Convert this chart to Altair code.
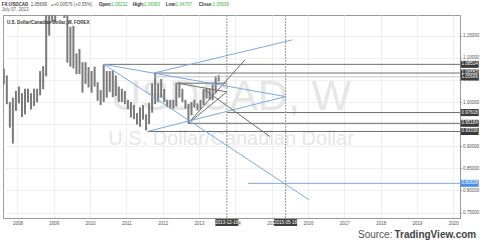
import altair as alt
import pandas as pd

# ---------------- data ----------------
months = [
    "2007-08", "2007-09", "2007-10", "2007-11", "2007-12",
    "2008-01", "2008-02", "2008-03", "2008-04", "2008-05", "2008-06",
    "2008-07", "2008-08", "2008-09", "2008-10", "2008-11", "2008-12",
    "2009-01", "2009-02", "2009-03", "2009-04", "2009-05", "2009-06",
    "2009-07", "2009-08", "2009-09", "2009-10", "2009-11", "2009-12",
    "2010-01", "2010-02", "2010-03", "2010-04", "2010-05", "2010-06",
    "2010-07", "2010-08", "2010-09", "2010-10", "2010-11", "2010-12",
    "2011-01", "2011-02", "2011-03", "2011-04", "2011-05", "2011-06",
    "2011-07", "2011-08", "2011-09", "2011-10", "2011-11", "2011-12",
    "2012-01", "2012-02", "2012-03", "2012-04", "2012-05", "2012-06",
    "2012-07", "2012-08", "2012-09", "2012-10", "2012-11", "2012-12",
    "2013-01", "2013-02", "2013-03", "2013-04", "2013-05", "2013-06",
    "2013-07",
]
high = [
    1.0750, 1.0600, 1.0000, 1.0100, 1.0250,
    1.0350, 1.0200, 1.0300, 1.0300, 1.0200, 1.0300,
    1.0300, 1.0700, 1.0810, 1.2980, 1.2900, 1.3000,
    1.2800, 1.2900, 1.3060, 1.2800, 1.2000, 1.1700,
    1.1720, 1.1100, 1.1200, 1.0900, 1.0900, 1.0790,
    1.0700, 1.0800, 1.0450, 1.0270, 1.0850, 1.0700,
    1.0700, 1.0710, 1.0600, 1.0350, 1.0300, 1.0250,
    1.0050, 1.0000, 0.9930, 0.9750, 0.9880, 0.9930,
    0.9720, 0.9980, 1.0420, 1.0655, 1.0420, 1.0520,
    1.0300, 1.0050, 1.0050, 1.0050, 1.0430, 1.0440,
    1.0300, 1.0050, 0.9960, 1.0000, 1.0050, 0.9970,
    1.0050, 1.0290, 1.0300, 1.0300, 1.0400, 1.0590,
    1.0608,
]
low = [
    1.0400, 0.9950, 0.9420, 0.9060, 0.9800,
    0.9970, 0.9660, 0.9720, 0.9990, 0.9830, 0.9910,
    0.9990, 1.0150, 1.0290, 1.0580, 1.1500, 1.1800,
    1.1800, 1.2100, 1.2150, 1.1900, 1.0890, 1.0800,
    1.0760, 1.0630, 1.0630, 1.0210, 1.0410, 1.0330,
    1.0210, 1.0350, 1.0030, 0.9930, 1.0000, 1.0100,
    1.0230, 1.0110, 1.0140, 1.0000, 1.0000, 0.9950,
    0.9840, 0.9650, 0.9610, 0.9490, 0.9440, 0.9600,
    0.9360, 0.9500, 0.9760, 0.9950, 1.0000, 1.0100,
    1.0000, 0.9880, 0.9850, 0.9850, 0.9900, 1.0100,
    1.0000, 0.9850, 0.9530, 0.9700, 0.9870, 0.9810,
    0.9830, 0.9930, 1.0080, 1.0050, 1.0040, 1.0200,
    1.0470,
]

# drawing tools (decimal year, price)
blue_x1 = [2010.386, 2011.581, 2011.755, 2010.386, 2014.353]
blue_y1 = [1.08514, 0.93338, 1.06553, 1.08514, 0.81618]
blue_x2 = [2015.383, 2015.383, 2015.565, 2016.025, 2020.185]
blue_y2 = [1.0123, 1.0123, 1.1403, 0.7791, 0.81618]

grey_x1 = [2010.386, 2011.755, 2013.766, 2012.700, 2011.581, 2012.408, 2012.408, 2012.700, 2012.700, 2013.160]
grey_y1 = [1.08514, 1.06553, 0.97618, 0.95184, 0.93338, 1.0425, 1.0425, 0.95184, 0.95184, 1.0274]
grey_x2 = [2020.185, 2020.185, 2020.185, 2020.185, 2020.185, 2013.766, 2013.766, 2013.766, 2014.262, 2014.950]
grey_y2 = [1.08514, 1.06553, 0.97618, 0.95184, 0.93338, 1.0425, 1.0229, 1.0229, 1.0951, 0.9220]

price_line = [1.05699]
price_line_from = [2011.755]

vline_t = [2013.766, 2015.383]
vline_lab = ["2013-12-16", "2015-05-18"]

dark_levels = [1.05699, 1.08514, 1.06553, 0.97618, 0.95184, 0.93338]
dark_labels = ["1.05699", "1.08514", "1.06553", "0.97618", "0.95184", "0.93338"]
blue_levels = [0.81618]
blue_labels = ["0.81618"]

year_ticks = list(range(2008, 2021))
price_ticks = [0.75, 0.80, 0.85, 0.90, 0.95, 1.00, 1.05, 1.10, 1.15]

# ---------------- tables ----------------
def dec(m):
    y, mo = m.split("-")
    return int(y) + (int(mo) - 0.5) / 12

bars = pd.DataFrame({"t": [dec(m) for m in months], "hi": high, "lo": low})
blue = pd.DataFrame({"t": blue_x1, "p": blue_y1, "t2": blue_x2, "p2": blue_y2})
grey = pd.DataFrame({"t": grey_x1, "p": grey_y1, "t2": grey_x2, "p2": grey_y2})
pline = pd.DataFrame({"t": price_line_from, "t2": [2020.185], "p": price_line})
vl = pd.DataFrame({"t": vline_t, "lab": vline_lab})
dl = pd.DataFrame({"p": dark_levels, "lab": dark_labels})
bl = pd.DataFrame({"p": blue_levels, "lab": blue_labels})
one = pd.DataFrame({"a": [0]})

FONT = "Liberation Sans"
xs = alt.Scale(domain=[2007.603, 2020.185], nice=False, zero=False)
ys = alt.Scale(domain=[0.7378, 1.1967], nice=False, zero=False)

x_axis = alt.Axis(values=year_ticks, format="d", labelFontSize=4.5,
                  tickSize=0, labelPadding=2, grid=True,
                  gridColor="#efefef", domainColor="#999999",
                  labelColor="#555555", labelFlush=False, title=None)
y_axis = alt.Axis(orient="right", values=price_ticks, format=".5f",
                  labelFontSize=4.5, tickSize=1.5, labelPadding=1,
                  grid=True, gridColor="#efefef", domainColor="#999999",
                  tickColor="#999999", labelColor="#555555", title=None)

def X(field="t"):
    return alt.X(f"{field}:Q", scale=xs, axis=x_axis)

def Y(field="p"):
    return alt.Y(f"{field}:Q", scale=ys, axis=y_axis)

def txt(s, x, y, size=4.5, color="#333333", weight="normal", align="left"):
    return alt.Chart(one).mark_text(
        text=s, align=align, baseline="alphabetic", fontSize=size,
        color=color, fontWeight=weight, font=FONT
    ).encode(x=alt.value(x), y=alt.value(y))

# watermark
wm1 = txt("USDCAD, W", 228, 95, size=42, color="#e6e6e6", align="center")
wm2 = txt("U.S. Dollar/Canadian Dollar", 228, 130, size=20, color="#e6e6e6", align="center")

price = alt.Chart(bars).mark_rule(strokeWidth=2.0, color="#7a7a7a", clip=True).encode(
    x=X(), y=Y("lo"), y2="hi:Q")

pl = alt.Chart(pline).mark_rule(color="#c4c4c4", strokeWidth=1, clip=True).encode(
    x=X(), x2="t2:Q", y=Y())

greys = alt.Chart(grey).mark_rule(color="#6e6e6e", strokeWidth=1, clip=True).encode(
    x=X(), x2="t2:Q", y=Y(), y2="p2:Q")

blues = alt.Chart(blue).mark_rule(color="#7ea7e6", strokeWidth=1, clip=True).encode(
    x=X(), x2="t2:Q", y=Y(), y2="p2:Q")

vlines = alt.Chart(vl).mark_rule(color="#9a9a9a", strokeWidth=1, strokeDash=[2, 1]).encode(
    x=X())

BOX_R = "M-1,-0.39L1,-0.39L1,0.39L-1,0.39Z"
BOX_B = "M-1,-0.3L1,-0.3L1,0.3L-1,0.3Z"

vbox = alt.Chart(vl).mark_point(shape=BOX_B, size=529, filled=True, opacity=1,
                                 color="#3a3a3a", strokeWidth=0).encode(
    x=X(), y=alt.value(207.5))
vtxt = alt.Chart(vl).mark_text(fontSize=4.5, color="white", baseline="middle",
                                align="center", font=FONT).encode(
    x=X(), y=alt.value(207.5), text="lab:N")

dbox = alt.Chart(dl).mark_point(shape=BOX_R, size=324, filled=True, opacity=1,
                                 color="#3a3a3a", strokeWidth=0).encode(
    x=alt.value(466.7), y=Y())
dtxt = alt.Chart(dl).mark_text(fontSize=4.5, color="white", baseline="middle",
                                align="center", font=FONT).encode(
    x=alt.value(466.7), y=Y(), text="lab:N")
bbox = alt.Chart(bl).mark_point(shape=BOX_R, size=324, filled=True, opacity=1,
                                 color="#4d8fe6", strokeWidth=0).encode(
    x=alt.value(466.7), y=Y())
btxt = alt.Chart(bl).mark_text(fontSize=4.5, color="white", baseline="middle",
                                align="center", font=FONT).encode(
    x=alt.value(466.7), y=Y(), text="lab:N")

GREEN = "#43b049"
header = [
    txt("FX:USDCAD", -1.3, -9, color="#333333", weight="bold"),
    txt("1.05699", 27.7, -9, color="#444444"),
    txt("▲", 47.2, -9, color=GREEN, size=4),
    txt("+0.00576 (+0.55%)", 50.7, -9, color="#555555"),
    txt("Open:", 95.7, -9, color="#333333", weight="bold"),
    txt("1.05232", 108.2, -9, color=GREEN),
    txt("High:", 129.7, -9, color="#333333", weight="bold"),
    txt("1.06083", 140.7, -9, color=GREEN),
    txt("Low:", 162.7, -9, color="#333333", weight="bold"),
    txt("1.04707", 172.7, -9, color=GREEN),
    txt("Close:", 195.7, -9, color="#333333", weight="bold"),
    txt("1.05699", 209.7, -9, color=GREEN),
    txt("July 07, 2013", -1.3, -4.3, color="#555555"),
    txt("U.S. Dollar/Canadian Dollar, W, FOREX", 4, 9, color="#333333", weight="bold"),
    txt("Source:", 355, 222.7, size=10, color="#555555"),
    txt("TradingView.com", 391.5, 222.7, size=10, color="#444444", weight="bold"),
]

chart = alt.layer(
    wm1, wm2, price, pl, greys, blues, vlines,
    vbox, vtxt, dbox, dtxt, bbox, btxt, *header
).properties(
    width=457, height=203, autosize=alt.AutoSizeParams(type="none"),
    padding={"left": 3, "top": 15, "right": 20, "bottom": 28},
).configure(font=FONT).configure_view(stroke="#9a9a9a", strokeWidth=1)

chart.save("out.html", embed_options={"renderer": "svg", "actions": False})
